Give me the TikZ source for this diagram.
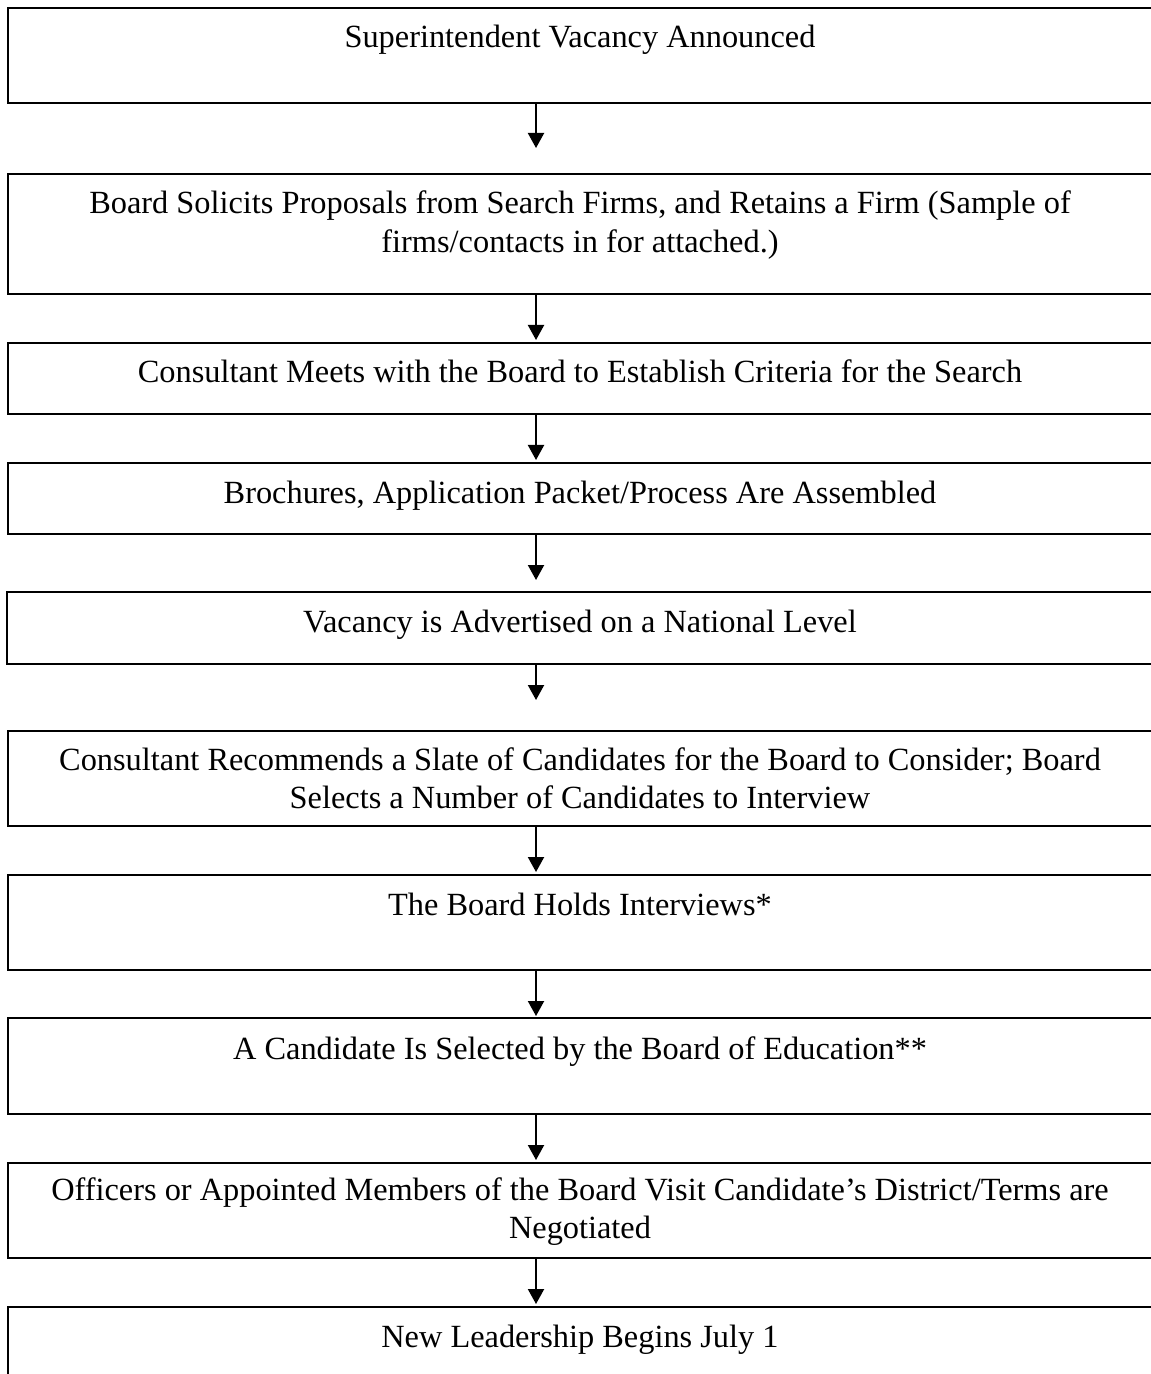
\documentclass[tikz,border=0pt]{standalone}
\usepackage{fontspec}
\setmainfont{Liberation Serif}
\usetikzlibrary{arrows.meta}
\tikzset{
  stepbox/.style={draw=black, line width=0.85pt, rectangle, inner sep=0pt},
  steptext/.style={anchor=base, inner sep=0pt, font=\fontsize{11.65}{13.8}\selectfont},
  flowarrow/.style={draw=black, line width=0.6pt, -{Triangle[width=5.8pt,length=5.4pt]}}
}
\newcommand{\boxtext}[1]{\parbox[t]{400pt}{\centering #1}}
\begin{document}
\begin{tikzpicture}[x=0.36pt, y=-0.36pt]
\useasboundingbox (0,0) rectangle (1151,1374);
\clip (0,0) rectangle (1151,1374);
% boxes
\node[stepbox, minimum width=1158*0.36pt, minimum height=95*0.36pt, anchor=north west] (b1) at (7,7) {};
\node[stepbox, minimum width=1158*0.36pt, minimum height=120*0.36pt, anchor=north west] (b2) at (7,173) {};
\node[stepbox, minimum width=1158*0.36pt, minimum height=71*0.36pt, anchor=north west] (b3) at (7,342) {};
\node[stepbox, minimum width=1158*0.36pt, minimum height=71*0.36pt, anchor=north west] (b4) at (7,462) {};
\node[stepbox, minimum width=1159*0.36pt, minimum height=72*0.36pt, anchor=north west] (b5) at (6,591) {};
\node[stepbox, minimum width=1158*0.36pt, minimum height=95*0.36pt, anchor=north west] (b6) at (7,730) {};
\node[stepbox, minimum width=1158*0.36pt, minimum height=95*0.36pt, anchor=north west] (b7) at (7,874) {};
\node[stepbox, minimum width=1158*0.36pt, minimum height=96*0.36pt, anchor=north west] (b8) at (7,1017) {};
\node[stepbox, minimum width=1158*0.36pt, minimum height=95*0.36pt, anchor=north west] (b9) at (7,1162) {};
\node[stepbox, minimum width=1158*0.36pt, minimum height=120*0.36pt, anchor=north west] (b10) at (7,1306) {};
% texts
\node[steptext] (t1) at (580,48) {\boxtext{Superintendent Vacancy Announced}};
\node[steptext] (t2) at (580,214) {\boxtext{Board Solicits Proposals from Search Firms, and Retains a Firm (Sample of\\firms/contacts in for attached.)}};
\node[steptext] (t3) at (580,383) {\boxtext{Consultant Meets with the Board to Establish Criteria for the Search}};
\node[steptext] (t4) at (580,503) {\boxtext{Brochures, Application Packet/Process Are Assembled}};
\node[steptext] (t5) at (580,632) {\boxtext{Vacancy is Advertised on a National Level}};
\node[steptext] (t6) at (580,770) {\boxtext{Consultant Recommends a Slate of Candidates for the Board to Consider; Board\\Selects a Number of Candidates to Interview}};
\node[steptext] (t7) at (580,915) {\boxtext{The Board Holds Interviews*}};
\node[steptext] (t8) at (580,1059) {\boxtext{A Candidate Is Selected by the Board of Education**}};
\node[steptext] (t9) at (580,1200) {\boxtext{Officers or Appointed Members of the Board Visit Candidate’s District/Terms are\\Negotiated}};
\node[steptext] (t10) at (580,1347) {\boxtext{New Leadership Begins July 1}};
% arrow tips
\coordinate (ax) at (536,0);
\coordinate (e1) at (536,148);
\coordinate (e2) at (536,340);
\coordinate (e3) at (536,460);
\coordinate (e4) at (536,580);
\coordinate (e5) at (536,700);
\coordinate (e6) at (536,872);
\coordinate (e7) at (536,1016);
\coordinate (e8) at (536,1160);
\coordinate (e9) at (536,1304);
\draw[flowarrow] (b1.south -| ax) -- (e1);
\draw[flowarrow] (b2.south -| ax) -- (e2);
\draw[flowarrow] (b3.south -| ax) -- (e3);
\draw[flowarrow] (b4.south -| ax) -- (e4);
\draw[flowarrow] (b5.south -| ax) -- (e5);
\draw[flowarrow] (b6.south -| ax) -- (e6);
\draw[flowarrow] (b7.south -| ax) -- (e7);
\draw[flowarrow] (b8.south -| ax) -- (e8);
\draw[flowarrow] (b9.south -| ax) -- (e9);
\end{tikzpicture}
\end{document}
